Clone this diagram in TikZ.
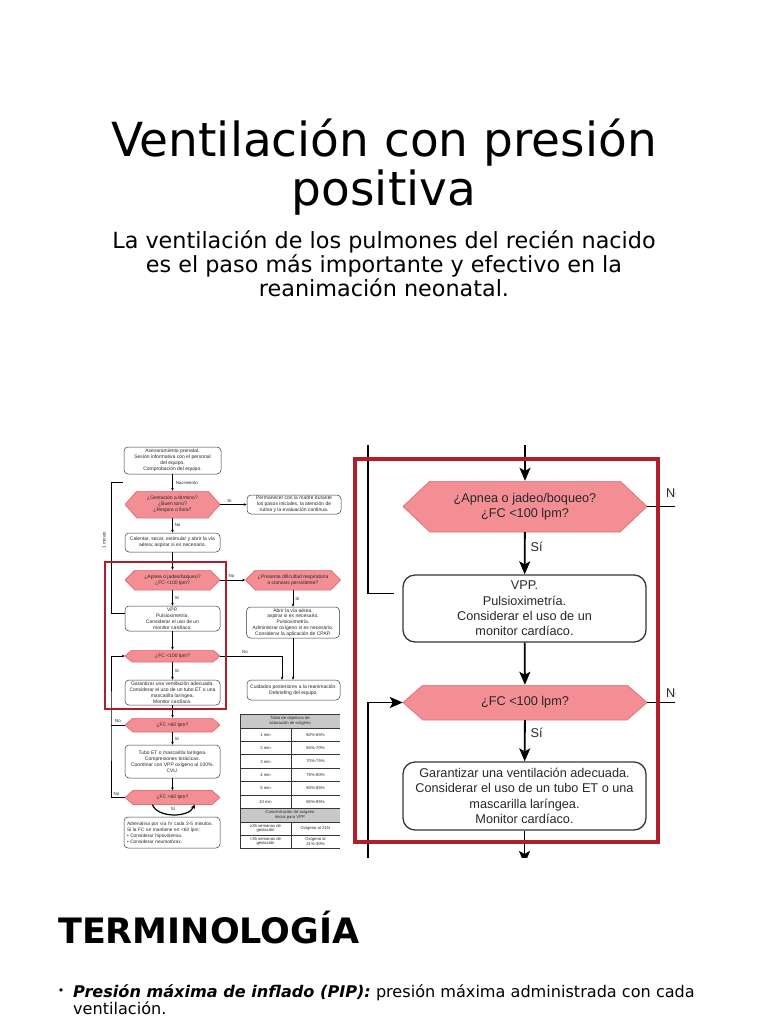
\documentclass[tikz,border=0pt]{standalone}
\usepackage{fontspec}
\setmainfont{DejaVu Sans}
\newfontfamily\chartfont{Liberation Sans}
\usetikzlibrary{arrows.meta}

\definecolor{hexpink}{RGB}{242,142,148}
\definecolor{hexedge}{RGB}{228,112,122}
\definecolor{boxedge}{RGB}{55,55,55}
\definecolor{zoomred}{RGB}{176,30,44}
\definecolor{tablegray}{RGB}{200,200,200}
\definecolor{inktext}{RGB}{40,40,40}

\tikzset{
  hexa/.style={rectangle, inner sep=0pt, align=center, text=inktext,
    path picture={
      \draw[fill=hexpink, draw=hexedge, line width=0.8pt]
        (path picture bounding box.west)
        -- ([xshift=#1]path picture bounding box.north west)
        -- ([xshift=-#1]path picture bounding box.north east)
        -- (path picture bounding box.east)
        -- ([xshift=-#1]path picture bounding box.south east)
        -- ([xshift=#1]path picture bounding box.south west) -- cycle;}},
  smallfont/.style={font=\chartfont\fontsize{5}{5.9}\selectfont},
  bigfont/.style={font=\chartfont\fontsize{12.7}{15.3}\selectfont},
  smallbox/.style={draw=boxedge, line width=0.5pt, rounded corners=4pt, fill=white,
    align=center, inner sep=0pt, text=inktext, smallfont},
  bigbox/.style={draw=boxedge, line width=1.3pt, rounded corners=12pt, fill=white,
    align=center, inner sep=0pt, text=inktext, bigfont},
  smallhex/.style={hexa=#1, smallfont},
  bighex/.style={hexa=#1, bigfont},
  smallflow/.style={line width=0.5pt, -{Stealth[length=3pt,width=2.6pt]}},
  smallline/.style={line width=0.5pt},
  bigflow/.style={line width=1.8pt, -{Stealth[length=13pt,width=11pt,inset=3pt]}},
  bigline/.style={line width=1.8pt},
  smalllbl/.style={font=\chartfont\fontsize{4.4}{5}\selectfont, text=inktext, inner sep=0pt},
  biglbl/.style={bigfont, text=inktext, inner sep=0pt},
  tabtxt/.style={font=\chartfont\fontsize{4.2}{4.8}\selectfont, align=center, inner sep=0pt, text=inktext}
}

\begin{document}
\begin{tikzpicture}[x=1pt, y=-1pt]
\useasboundingbox (0,0) rectangle (768,1024);
\fill[white] (0,0) rectangle (768,1024);

% titulo y subtitulo
\node[anchor=base, font=\fontsize{47}{52}\selectfont] (titulo1) at (384,157) {Ventilación con presión};
\node[anchor=base, font=\fontsize{47}{52}\selectfont] (titulo2) at (384,206) {positiva};
\node[anchor=base, font=\fontsize{22.3}{24}\selectfont] (sub1) at (384,248) {La ventilación de los pulmones del recién nacido};
\node[anchor=base, font=\fontsize{22.3}{24}\selectfont] (sub2) at (384,272) {es el paso más importante y efectivo en la};
\node[anchor=base, font=\fontsize{22.3}{24}\selectfont] (sub3) at (384,296) {reanimación neonatal.};

% algoritmo completo (izquierda)
\node[smallbox, minimum width=97pt, minimum height=27pt] (asesor) at (172.5,460.5) {Asesoramiento prenatal.\\Sesión informativa con el personal\\del equipo.\\Comprobación del equipo.};
\node[smallhex=12pt, minimum width=95pt, minimum height=27pt] (gestacion) at (172.5,504.5) {¿Gestación a término?\\¿Buen tono?\\¿Respira o llora?};
\node[smallbox, minimum width=94pt, minimum height=19pt] (permanecer) at (294,504.5) {Permanecer con la madre durante\\los pasos iniciales, la atención de\\rutina y la evaluación continua.};
\node[smallbox, minimum width=95pt, minimum height=19pt] (calentar) at (172.5,542.5) {Calentar, secar, estimular y abrir la vía\\aérea; aspirar si es necesario.};
\node[smallhex=10pt, minimum width=95pt, minimum height=20pt] (apneaS) at (172.5,580) {¿Apnea o jadeo/boqueo?\\¿FC <100 lpm?};
\node[smallhex=10pt, minimum width=95pt, minimum height=20pt] (dificultad) at (293,580) {¿Presenta dificultad respiratoria\\o cianosis persistente?};
\node[smallbox, minimum width=95pt, minimum height=25pt] (vppS) at (172.5,618.5) {VPP.\\Pulsioximetría.\\Considerar el uso de un\\monitor cardíaco.};
\node[smallbox, minimum width=93pt, minimum height=31pt] (abrir) at (293,622.5) {Abrir la vía aérea,\\aspirar si es necesario.\\Pulsioximetría.\\Administrar oxígeno si es necesario.\\Considerar la aplicación de CPAP.};
\node[smallhex=7pt, minimum width=95pt, minimum height=12pt] (fcS) at (172.5,656) {¿FC <100 lpm?};
\node[smallbox, minimum width=93pt, minimum height=20pt] (cuidados) at (293.5,690) {Cuidados posteriores a la reanimación.\\Debriefing del equipo.};
\node[smallbox, minimum width=95pt, minimum height=25pt] (garantS) at (172.5,692.5) {Garantizar una ventilación adecuada.\\Considerar el uso de un tubo ET o una\\mascarilla laríngea.\\Monitor cardíaco.};
\node[smallhex=8pt, minimum width=95pt, minimum height=14pt] (sesentaA) at (172.5,725) {¿FC <60 lpm?};
\node[smallbox, minimum width=95pt, minimum height=33pt] (tubo) at (172.5,761.5) {Tubo ET o mascarilla laríngea.\\Compresiones torácicas.\\Coordinar con VPP oxígeno al 100\%.\\CVU.};
\node[smallhex=8pt, minimum width=95pt, minimum height=14pt] (sesentaB) at (172.5,797.5) {¿FC <60 lpm?};
\node[smallbox, align=left, text width=90pt, inner sep=3pt, minimum height=31pt, font=\chartfont\fontsize{4.8}{5.9}\selectfont] (adrenalina) at (172,832.5) {Adrenalina por vía IV cada 3-5 minutos.\\Si la FC se mantiene en <60 lpm:\\• Considerar hipovolemia.\\• Considerar neumotórax.};

\draw[smallflow] (asesor) -- node[smalllbl, right=3pt]{Nacimiento} (gestacion);
\draw[smallflow] (gestacion) -- node[smalllbl, above=2pt, pos=0.35]{Sí} (permanecer);
\draw[smallflow] (gestacion) -- node[smalllbl, right=2pt]{No} (calentar);
\draw[smallflow] (calentar) -- (apneaS);
\draw[smallflow] (apneaS) -- node[smalllbl, above=2pt, pos=0.45]{No} (dificultad);
\draw[smallflow] (apneaS) -- node[smalllbl, right=2pt]{Sí} (vppS);
\draw[smallflow] (dificultad) -- node[smalllbl, right=2pt]{Sí} (abrir);
\draw[smallflow] (vppS) -- (fcS);
\draw[smallflow] (fcS.east) -| node[smalllbl, above=2pt, pos=0.2]{No} ([xshift=-11.5pt]cuidados.north);
\draw[smallflow] (abrir.south) -- (abrir.south |- cuidados.north);
\draw[smallflow] (fcS) -- node[smalllbl, right=2pt]{Sí} (garantS);
\draw[smallflow] (garantS) -- (sesentaA);
\draw[smallflow] (sesentaA) -- node[smalllbl, right=2pt]{Sí} (tubo);
\draw[smallflow] (tubo) -- (sesentaB);
\coordinate (lazo) at (111,725);
\draw[smallflow] (sesentaB.west) -| node[smalllbl, above=2pt, pos=0.3]{No} (lazo) |- (fcS.west);
\draw[smallline] (sesentaA.west) -- node[smalllbl, above=2pt]{No} (sesentaA.west -| lazo);
\draw[line width=1.2pt, -{Stealth[length=4pt,width=4.5pt]}] ([xshift=-20pt]sesentaB.south) .. controls (157,818) and (189,818) .. ([xshift=22pt]sesentaB.south);
\node[smalllbl] (siRCP) at (173,809) {Sí};

% corchete de 1 minuto
\coordinate (minutoA) at (123,482);
\coordinate (minutoB) at (111,482);
\draw[smallline] (minutoA) -- (minutoB) |- ([yshift=5pt]vppS.west);
\node[smalllbl, rotate=90] (minuto) at (104,540) {1 minuto};

% tabla de saturacion
\fill[tablegray] (240,714) rectangle (340,728);
\fill[tablegray] (240,808.4) rectangle (340,822);
\foreach \y in {714,728,741.4,754.8,768.2,781.6,795,808.4,822,835,848}
  \draw[line width=0.8pt, boxedge] (240,\y) -- (340,\y);
\draw[line width=0.8pt, boxedge] (240,714) -- (240,848);
\draw[line width=0.8pt, boxedge] (291,728) -- (291,808.4);
\draw[line width=0.8pt, boxedge] (291,822) -- (291,848);
\node[tabtxt] (tabla1) at (290,721) {Tabla de objetivos de\\saturación de oxígeno};
\foreach \t/\v [count=\i] in {1 min/60\%-65\%, 2 min/65\%-70\%, 3 min/70\%-75\%, 4 min/75\%-80\%, 5 min/80\%-85\%, 10 min/85\%-95\%}{
  \node[tabtxt] (fila\i a) at (265.5,734.7+13.4*\i-13.4) {\t};
  \node[tabtxt] (fila\i b) at (315.5,734.7+13.4*\i-13.4) {\v};
}
\node[tabtxt] (tabla2) at (290,815.2) {Concentración de oxígeno\\inicial para VPP};
\node[tabtxt] (edad1) at (265.5,828.5) {≥35 semanas de\\gestación};
\node[tabtxt] (oxi1) at (315.5,828.5) {Oxígeno al 21\%};
\node[tabtxt] (edad2) at (265.5,841.5) {<35 semanas de\\gestación};
\node[tabtxt] (oxi2) at (315.5,841.5) {Oxígeno al\\21\%-30\%};

\draw[zoomred, line width=1.2pt] (105,562) rectangle (226,709);

% ampliacion (derecha)
\begin{scope}
\clip (350,445) rectangle (675,857);
\node[bighex=27pt, minimum width=244pt, minimum height=51pt] (apneaG) at (525,506.5) {¿Apnea o jadeo/boqueo?\\¿FC <100 lpm?};
\node[bigbox, minimum width=243pt, minimum height=67pt] (vppG) at (524.5,608.5) {VPP.\\Pulsioximetría.\\Considerar el uso de un\\monitor cardíaco.};
\node[bighex=20pt, minimum width=244pt, minimum height=35pt] (fcG) at (525,702.5) {¿FC <100 lpm?};
\node[bigbox, minimum width=243pt, minimum height=68pt] (garantG) at (524.5,796) {Garantizar una ventilación adecuada.\\Considerar el uso de un tubo ET o una\\mascarilla laríngea.\\Monitor cardíaco.};
\coordinate (entradaG) at (525,440);
\coordinate (minutoG) at (368,440);
\coordinate (lazoG) at (368,862);
\coordinate (bordeG) at (684,0);
\coordinate (salidaG) at (0,864);
\draw[bigflow] (entradaG) -- (apneaG);
\draw[bigline] (minutoG) |- ([xshift=-8pt,yshift=15pt]vppG.west);
\draw[bigflow] (apneaG) -- node[biglbl, pos=0.35, right=5pt]{Sí} (vppG);
\draw[bigline] (apneaG.east) -- (apneaG.east -| bordeG);
\node[biglbl, anchor=base west] (noA) at (666,497) {No};
\draw[bigflow] (vppG) -- (fcG);
\draw[bigflow] (lazoG) |- (fcG.west);
\draw[bigline] (fcG.east) -- (fcG.east -| bordeG);
\node[biglbl, anchor=base west] (noB) at (666,697) {No};
\draw[bigflow] (fcG) -- node[biglbl, pos=0.3, right=5pt]{Sí} (garantG);
\draw[bigflow] (garantG) -- (garantG.south |- salidaG);
\draw[zoomred, line width=3.5pt] (355,459) rectangle (658,842);
\end{scope}

% terminologia
\node[anchor=base west, inner sep=0pt, font=\bfseries\fontsize{35}{40}\selectfont] (termino) at (58,943) {TERMINOLOGÍA};
\node[inner sep=0pt, font=\fontsize{11}{12}\selectfont] (bala) at (61,992) {•};
\node[anchor=base west, inner sep=0pt, font=\fontsize{16.1}{17}\selectfont] (pip1) at (73,997) {\textbf{\textit{Presión máxima de inflado (PIP):}} presión máxima administrada con cada};
\node[anchor=base west, inner sep=0pt, font=\fontsize{16.1}{17}\selectfont] (pip2) at (73,1014) {ventilación.};
\end{tikzpicture}
\end{document}
